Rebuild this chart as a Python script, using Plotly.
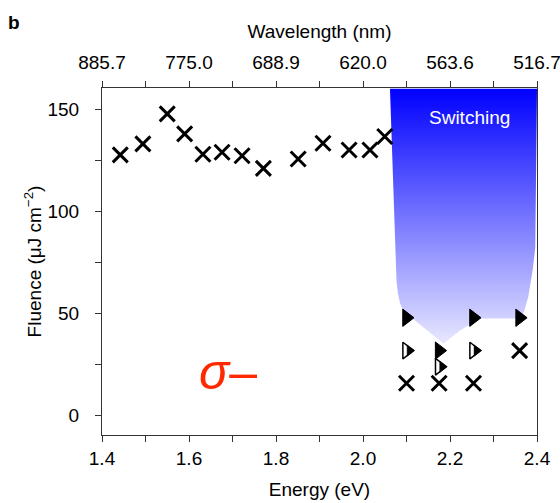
import plotly.graph_objects as go

# Photon energies (eV) and threshold fluences for the sub-band-gap scan
scan_energy = [1.442, 1.494, 1.550, 1.590, 1.632, 1.676, 1.722, 1.771,
               1.851, 1.908, 1.968, 2.016, 2.050]
scan_fluence = [127.6, 133.0, 147.7, 137.9, 127.9, 128.9, 127.2, 121.0,
                125.6, 133.3, 130.0, 130.0, 136.6]

# Above-gap measurements
full_energy = [2.100, 2.254, 2.360, 2.175]
full_fluence = [47.7, 47.7, 47.7, 31.6]
partial_energy = [2.100, 2.254, 2.175]
partial_fluence = [31.6, 31.6, 23.7]
none_energy = [2.100, 2.175, 2.254, 2.360]
none_fluence = [15.6, 15.6, 15.6, 31.6]

# Outline of the switching region
region_energy = [2.062, 2.077, 2.080, 2.085, 2.093, 2.185, 2.223, 2.269,
                 2.362, 2.370, 2.380, 2.390, 2.396, 2.398, 2.400]
region_fluence = [160.0, 66.0, 60.0, 55.0, 51.0, 35.0, 41.5, 47.3,
                  47.3, 50.5, 58.0, 71.0, 82.0, 131.0, 160.0]

# Axis ticks: energy below, corresponding wavelength above
energy_ticks = [1.4, 1.6, 1.8, 2.0, 2.2, 2.4]
energy_minor = [1.5, 1.7, 1.9, 2.1, 2.3]
wavelength_labels = ["885.7", "775.0", "688.9", "620.0", "563.6", "516.7"]
fluence_ticks = [0, 50, 100, 150]
fluence_minor = [25, 75, 125]

FONT = "Liberation Sans, Arial, Helvetica, sans-serif"
AX = "#333333"

fig = go.Figure()

fig.add_trace(go.Scatter(
    x=region_energy, y=region_fluence, mode="lines", fill="toself",
    line=dict(width=0, color="rgba(0,0,0,0)"),
    fillgradient=dict(type="vertical",
                      colorscale=[[0, "rgb(232,232,255)"],
                                  [1, "rgb(0,0,255)"]]),
    hoverinfo="skip", showlegend=False))

cross = dict(symbol="x-thin-open", size=15, color="black",
             line=dict(width=3, color="black"))

fig.add_trace(go.Scatter(x=scan_energy, y=scan_fluence, mode="markers",
                         marker=cross, showlegend=False))
fig.add_trace(go.Scatter(x=none_energy, y=none_fluence, mode="markers",
                         marker=cross, showlegend=False))

tri = dict(symbol="triangle-right", size=15, color="black",
           line=dict(width=1, color="black"))
fig.add_trace(go.Scatter(x=full_energy, y=full_fluence, mode="markers",
                         marker=tri, showlegend=False))

# partially filled triangles: white body with outline, right part filled
fig.add_trace(go.Scatter(x=partial_energy, y=partial_fluence, mode="markers",
                         marker=dict(symbol="triangle-right", size=14.5,
                                     color="white",
                                     line=dict(width=1.5, color="black")),
                         showlegend=False))
fig.add_trace(go.Scatter(x=[e + 0.007 for e in partial_energy],
                         y=partial_fluence, mode="markers",
                         marker=dict(symbol="triangle-right", size=9.8,
                                     color="black",
                                     line=dict(width=0.5, color="black")),
                         showlegend=False))

# invisible trace to activate the top axis
fig.add_trace(go.Scatter(x=[1.4, 2.4], y=[0, 0], xaxis="x2", mode="markers",
                         marker=dict(opacity=0), hoverinfo="skip",
                         showlegend=False))

fig.add_annotation(x=2.245, y=146, text="Switching", showarrow=False,
                   font=dict(family=FONT, size=19, color="white"))
fig.add_annotation(x=1.69, y=21, text="<i>σ</i>–", showarrow=False,
                   font=dict(family=FONT, size=50, color="rgb(255,40,0)"))
fig.add_annotation(xref="paper", yref="paper", x=-0.202, y=1.19,
                   xanchor="center", yanchor="middle", text="<b>b</b>",
                   showarrow=False,
                   font=dict(family=FONT, size=19, color="black"))

axis_common = dict(showline=True, linecolor=AX, linewidth=1, ticks="outside",
                   ticklen=6, tickcolor=AX, tickwidth=1, showgrid=False,
                   zeroline=False, automargin=False,
                   ticklabeloverflow="allow",
                   tickfont=dict(family=FONT, size=19, color="black"))

fig.update_layout(
    width=560, height=503,
    margin=dict(l=102, r=23, t=88, b=68),
    paper_bgcolor="white", plot_bgcolor="white",
    xaxis=dict(range=[1.4, 2.4], tickvals=energy_ticks,
               ticktext=[f"{v:.1f}" for v in energy_ticks],
               minor=dict(tickvals=energy_minor, ticks="outside", ticklen=6,
                          tickcolor=AX),
               mirror=True,
               title=dict(text="Energy (eV)", standoff=14,
                          font=dict(family=FONT, size=19, color="black")),
               **axis_common),
    xaxis2=dict(range=[1.4, 2.4], overlaying="x", side="top",
                tickvals=energy_ticks, ticktext=wavelength_labels,
                ticklabelstandoff=4,
                minor=dict(tickvals=energy_minor, ticks="outside", ticklen=6,
                           tickcolor=AX),
                title=dict(text="Wavelength (nm)", standoff=8,
                           font=dict(family=FONT, size=19, color="black")),
                **axis_common),
    yaxis=dict(range=[-9.8, 160.4], tickvals=fluence_ticks,
               ticklabelstandoff=12,
               minor=dict(tickvals=fluence_minor, ticks="outside", ticklen=6,
                          tickcolor=AX),
               mirror=True,
               title=dict(text="Fluence (μJ cm<sup>−2</sup>)", standoff=0,
                          font=dict(family=FONT, size=19, color="black")),
               **axis_common),
)

fig.write_html("out.html")
